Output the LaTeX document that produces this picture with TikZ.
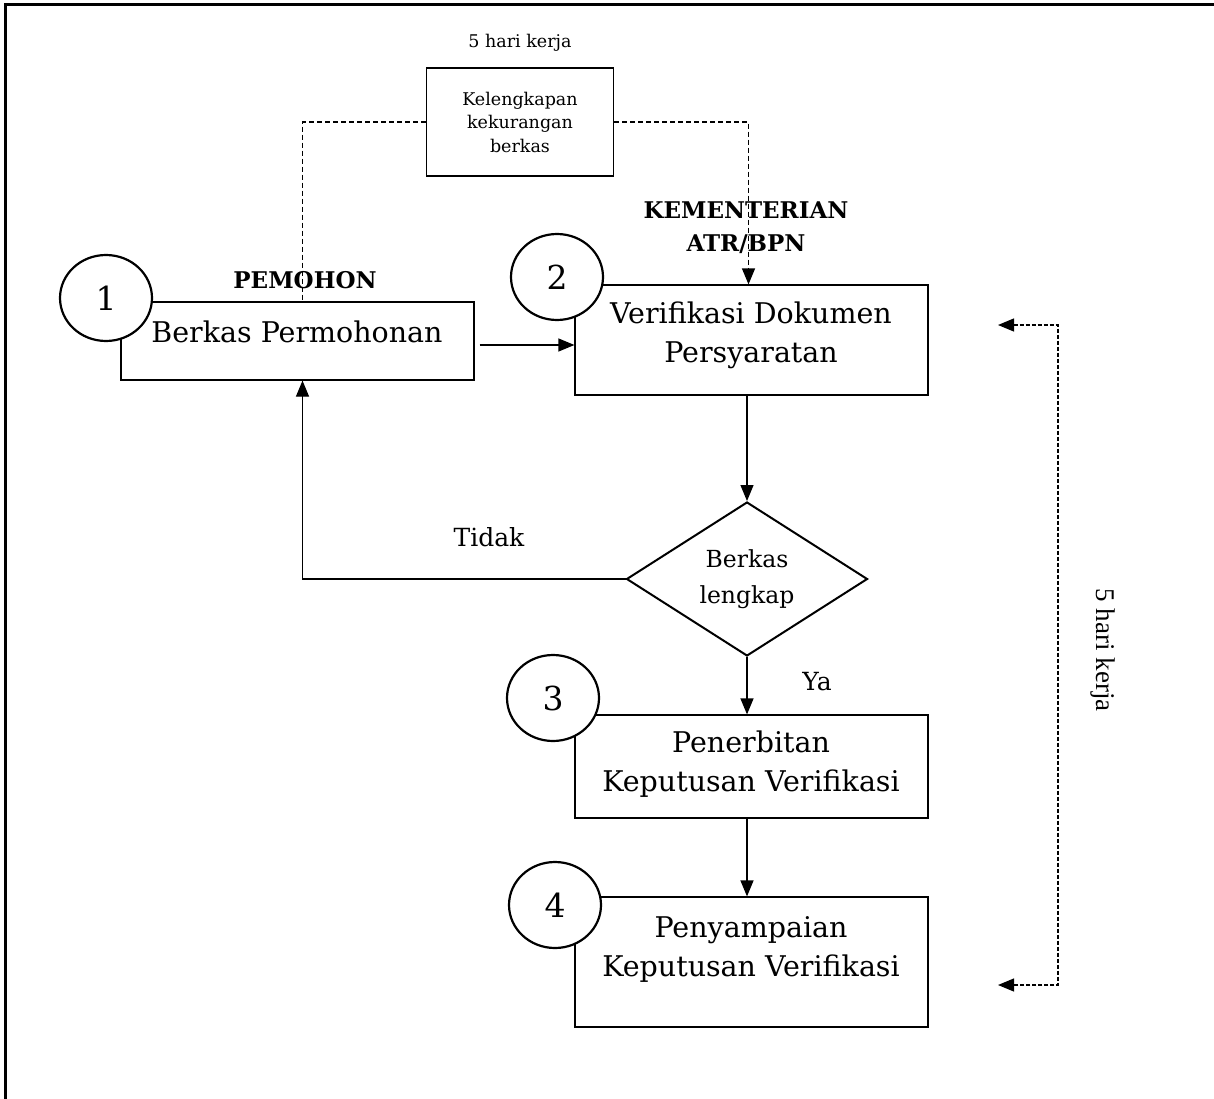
\documentclass[tikz,border=0pt]{standalone}
\usepackage{fontspec}
\setmainfont{DejaVu Serif}
\newfontfamily\timesfont{Liberation Serif}
\usetikzlibrary{shapes.geometric,arrows.meta,calc}

\tikzset{
    box/.style={rectangle, draw, line width=1.2pt, minimum width=353pt, inner sep=0pt},
    boxtext/.style={align=center, font=\fontsize{28.5}{39}\selectfont},
    numcircle/.style={ellipse, draw, line width=2.2pt, fill=white, minimum width=92pt, minimum height=86pt, inner sep=0pt, font=\fontsize{33}{36}\selectfont},
    decision/.style={diamond, draw, line width=2pt, minimum width=241pt, minimum height=148pt, inner sep=0pt, align=center, font=\fontsize{23.5}{36}\selectfont},
    flow/.style={line width=1.2pt, -{Triangle[length=16pt,width=13pt]}},
    dashline/.style={line width=1.2pt, dash pattern=on 5pt off 3pt},
    heading/.style={align=center, font=\fontsize{23}{33}\selectfont\bfseries},
    note/.style={font=\fontsize{25}{28}\selectfont}
}

\begin{document}
\begin{tikzpicture}[x=1pt, y=-1pt]
    \useasboundingbox (0,0) rectangle (1214,1099);

    % Frame (top and left only)
    \draw[line width=3pt] (5,1099) -- (5,5) -- (1214,5);

    % Missing documents box
    \node[font=\fontsize{17.5}{20}\selectfont] (days) at (520,43) {5 hari kerja};
    \node[rectangle, draw, line width=1.2pt, minimum width=187pt, minimum height=108pt, align=center, font=\fontsize{17.5}{23.5}\selectfont] (kel) at (520,122) {Kelengkapan\\kekurangan\\berkas};

    % Headings
    \node[heading] (pemohon) at (305,280) {PEMOHON};
    \node[heading] (kementerian) at (746,228) {KEMENTERIAN\\ATR/BPN};

    % Process boxes
    \node[box, minimum height=78pt] (box1) at (297.5,341) {};
    \node[box, minimum height=110pt] (box2) at (751.5,340) {};
    \node[box, minimum height=103pt] (box3) at (751.5,766.5) {};
    \node[box, minimum height=130pt] (box4) at (751.5,962) {};

    \node[boxtext] (txt1) at (297,332) {Berkas Permohonan};
    \node[boxtext] (txt2) at (751,335) {Verifikasi Dokumen\\Persyaratan};
    \node[boxtext] (txt3) at (751,764) {Penerbitan\\Keputusan Verifikasi};
    \node[boxtext] (txt4) at (751,949) {Penyampaian\\Keputusan Verifikasi};

    % Decision
    \node[decision] (dec) at (747,579) {Berkas\\lengkap};

    % Step numbers
    \node[numcircle] (n1) at (106,298) {1};
    \node[numcircle] (n2) at (557,277) {2};
    \node[numcircle] (n3) at (553,698) {3};
    \node[numcircle] (n4) at (555,905) {4};

    % Flow
    \draw[flow, shorten <=5pt] (box1.east |- 0,345) -- (box2.west |- 0,345);
    \draw[flow] (box2.south -| dec.north) -- (dec.north);
    \draw[flow] (dec.west) -| ([xshift=5pt]box1.south);
    \draw[flow] (dec.south) -- (box3.north -| dec.south);
    \draw[flow] (box3.south -| dec.south) -- (box4.north -| dec.south);
    \node[note] (tidak) at (489,537) {Tidak};
    \node[note] (ya) at (817,682) {Ya};

    % Return for missing documents
    \draw[dashline] (kel.west) -| ([xshift=5pt]box1.north);
    \draw[dashline, -{Triangle[length=16pt,width=13pt]}] (kel.east) -| ([xshift=-3pt]box2.north);

    % Duration bracket
    \coordinate (durtop) at (998,325);
    \coordinate (durbot) at (998,985);
    \draw[line width=1.2pt, dash pattern=on 4pt off 2pt, {Triangle[length=16pt,width=13pt]}-{Triangle[length=16pt,width=13pt]}]
        (durtop) -- ++(60,0) |- (durbot);
    \node[rotate=-90, font=\timesfont\fontsize{27}{30}\selectfont] (dur) at (1103,650) {5 hari kerja};
\end{tikzpicture}
\end{document}
